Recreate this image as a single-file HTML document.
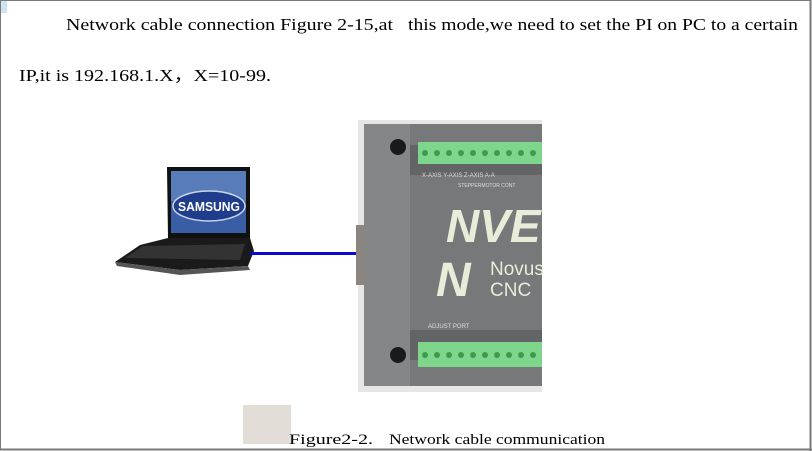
<!DOCTYPE html>
<html><head><meta charset="utf-8"><style>
html,body{margin:0;padding:0;background:#fff}
svg{display:block}
</style></head><body>
<svg width="812" height="451" viewBox="0 0 812 451" xmlns="http://www.w3.org/2000/svg">
<rect x="0" y="0" width="812" height="451" fill="#fff"/>
<rect x="0.5" y="0.5" width="810" height="449" fill="none" stroke="#7a7a7a" stroke-width="1"/>
<line x1="810.5" y1="0" x2="810.5" y2="451" stroke="#7a7a7a" stroke-width="2"/>
<line x1="0" y1="449.5" x2="812" y2="449.5" stroke="#7a7a7a" stroke-width="2"/>
<rect x="1" y="1" width="6" height="12" fill="#cfe3f0"/>
<g font-family="Liberation Serif, serif" font-size="17" fill="#000">
<text x="66" y="30" textLength="327" lengthAdjust="spacingAndGlyphs">Network cable connection Figure 2-15,at</text>
<text x="408" y="30" textLength="390" lengthAdjust="spacingAndGlyphs">this mode,we need to set the PI on PC to a certain</text>
<text x="19" y="81" textLength="252" lengthAdjust="spacingAndGlyphs">IP,it is 192.168.1.X，X=10-99.</text>
</g>
<!-- laptop -->
<g>
<polygon points="167,167 250,167 250,238 168,238" fill="#111"/>
<rect x="171" y="171" width="75" height="62" fill="#3a5ea6"/>
<rect x="171" y="171" width="75" height="30" fill="#6d8fc8" opacity="0.6"/>
<ellipse cx="209" cy="206" rx="36" ry="15" fill="#1f3d8a" stroke="#c8d4ea" stroke-width="1.5"/>
<text x="209" y="211" font-family="Liberation Sans, sans-serif" font-weight="bold" font-size="13" fill="#fff" text-anchor="middle" textLength="62" lengthAdjust="spacingAndGlyphs">SAMSUNG</text>
<polygon points="168,238 250,238 254,251 248,266 180,270 115,262 140,245" fill="#1a1a1a"/>
<polygon points="143,246 245,244 240,260 125,258" fill="#333"/>
<polygon points="115,262 180,270 248,266 250,270 180,275 117,266" fill="#555"/>
</g>
<!-- cable -->
<rect x="250" y="252" width="112" height="3" fill="#0a0acc"/>
<!-- controller -->
<g>
<rect x="358" y="120" width="184" height="272" fill="#e6e6e6"/>
<rect x="364" y="124" width="178" height="262" fill="#76787a"/>
<rect x="364" y="124" width="46" height="262" fill="#848688"/>
<rect x="410" y="145" width="132" height="30" fill="#626466"/>
<rect x="410" y="330" width="132" height="30" fill="#626466"/>
<rect x="356" y="225" width="10" height="60" fill="#8a8580"/>
<circle cx="398" cy="147" r="8" fill="#1a1a1a"/>
<circle cx="398" cy="355" r="8" fill="#1a1a1a"/>
<rect x="418" y="142" width="124" height="22" fill="#7ed68c"/>
<rect x="418" y="342" width="124" height="25" fill="#7ed68c"/>
<g fill="#3e9a4c">
<circle cx="425" cy="153" r="3"/><circle cx="437" cy="153" r="3"/><circle cx="449" cy="153" r="3"/><circle cx="461" cy="153" r="3"/><circle cx="473" cy="153" r="3"/><circle cx="485" cy="153" r="3"/><circle cx="497" cy="153" r="3"/><circle cx="509" cy="153" r="3"/><circle cx="521" cy="153" r="3"/><circle cx="533" cy="153" r="3"/>
<circle cx="425" cy="355" r="3"/><circle cx="437" cy="355" r="3"/><circle cx="449" cy="355" r="3"/><circle cx="461" cy="355" r="3"/><circle cx="473" cy="355" r="3"/><circle cx="485" cy="355" r="3"/><circle cx="497" cy="355" r="3"/><circle cx="509" cy="355" r="3"/><circle cx="521" cy="355" r="3"/><circle cx="533" cy="355" r="3"/>
</g>
<g font-family="Liberation Sans, sans-serif" fill="#ddd" font-size="6">
<text x="422" y="177">X-AXIS  Y-AXIS  Z-AXIS  A-A</text>
<text x="458" y="187" font-size="5">STEPPERMOTOR CONT</text>
<text x="428" y="328" font-size="6">ADJUST PORT</text>
</g>
<text x="446" y="242" font-family="Liberation Sans, sans-serif" font-weight="bold" font-style="italic" font-size="46" fill="#e8ecd8">NVE</text>
<text x="436" y="296" font-family="Liberation Sans, sans-serif" font-weight="bold" font-style="italic" font-size="48" fill="#e8ecd8">N</text>
<text x="490" y="275" font-family="Liberation Sans, sans-serif" font-size="19" fill="#e8ecd8">Novus</text>
<text x="490" y="296" font-family="Liberation Sans, sans-serif" font-size="19" fill="#e8ecd8">CNC</text>
</g>
<rect x="243" y="405" width="48" height="39" fill="#e3ddd8"/>
<g font-family="Liberation Serif, serif" font-size="15" fill="#000">
<text x="289" y="444" textLength="84" lengthAdjust="spacingAndGlyphs">Figure2-2.</text>
<text x="389" y="444" textLength="216" lengthAdjust="spacingAndGlyphs">Network cable communication</text>
</g>
</svg>
</body></html>
